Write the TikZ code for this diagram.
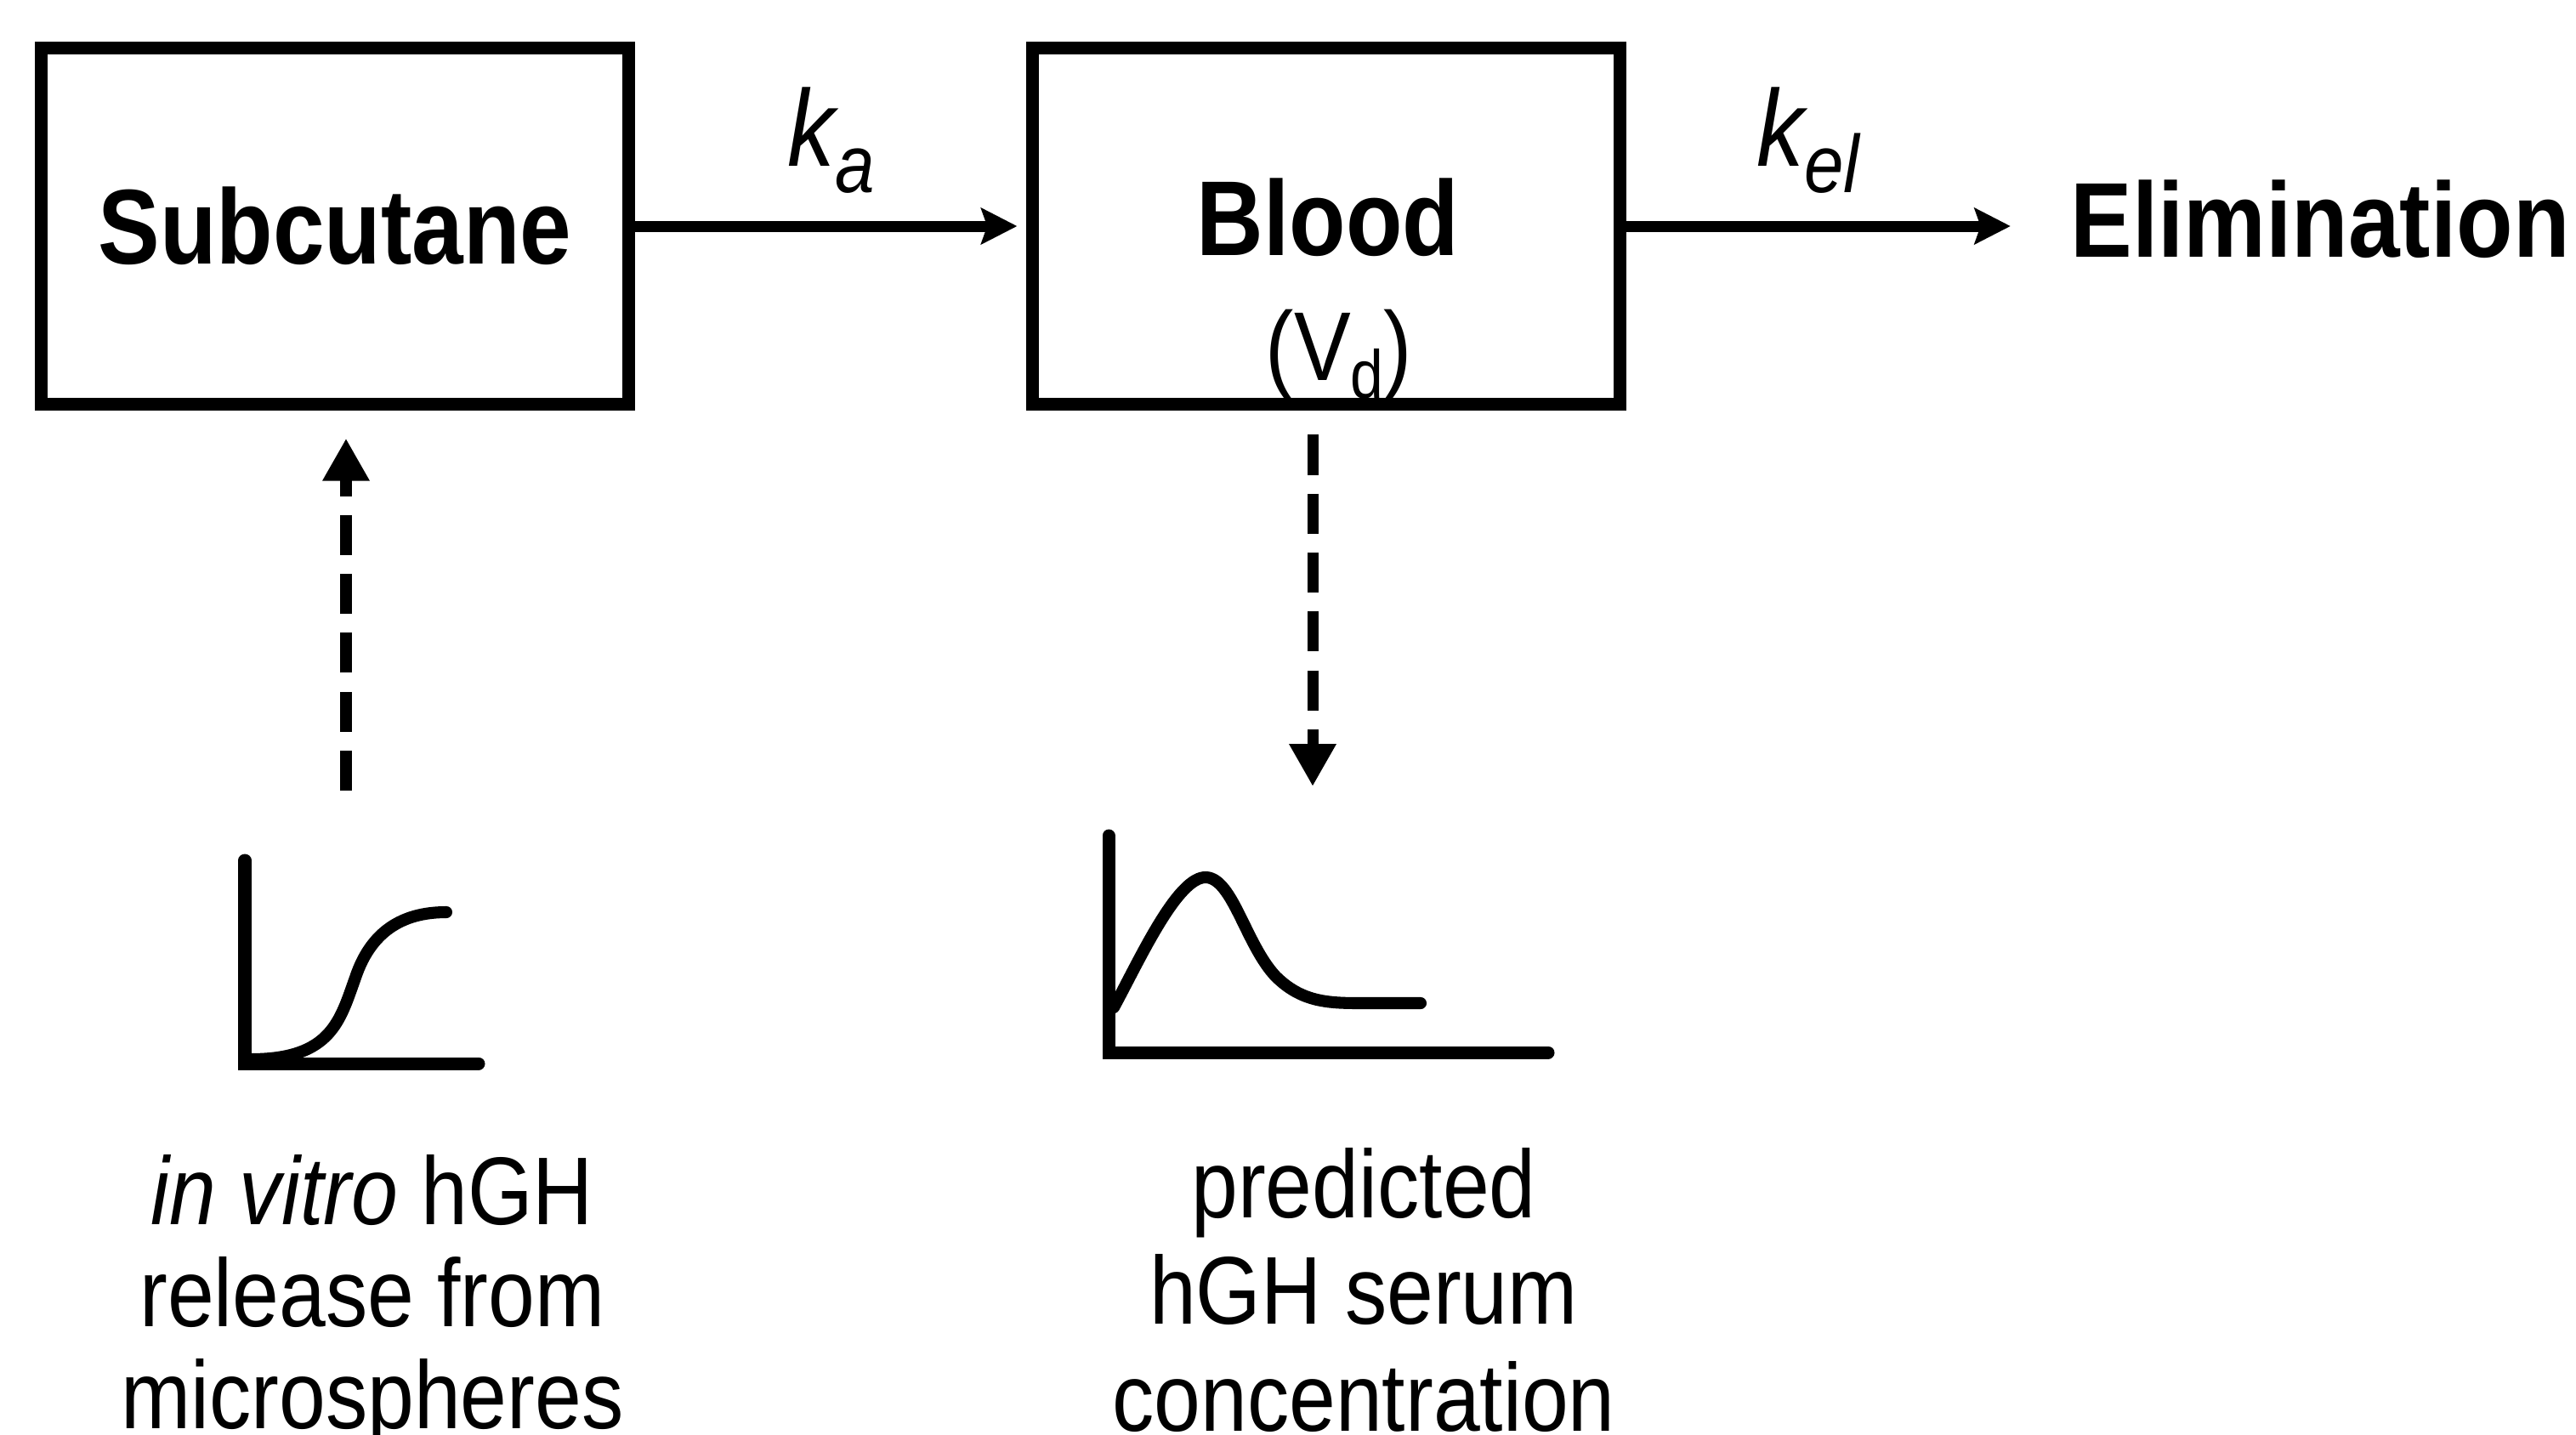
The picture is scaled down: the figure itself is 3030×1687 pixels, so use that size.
\documentclass[tikz,border=0pt]{standalone}
\usepackage{fontspec}
\setmainfont{Liberation Sans}[FakeStretch=0.87]
\usetikzlibrary{arrows.meta}
\newcommand{\mysub}[3]{\raisebox{-#2}{\fontsize{#1}{#1}\selectfont #3}}
\begin{document}
\begin{tikzpicture}[x=0.01cm,y=-0.01cm,
  box/.style={draw, line width=4.27pt, minimum width=6.9cm, minimum height=4.18cm, inner sep=0pt,
    font=\fontsize{35.6pt}{40pt}\selectfont\bfseries},
  lbl/.style={font=\fontsize{35.6pt}{40pt}\selectfont\bfseries, anchor=base, inner sep=0pt},
  rate/.style={font=\fontsize{36.4pt}{40pt}\selectfont\itshape, anchor=base, inner sep=0pt},
  vol/.style={font=\fontsize{32.7pt}{36pt}\selectfont, anchor=base, inner sep=0pt},
  capl/.style={font=\fontsize{32.2pt}{34.1pt}\selectfont, align=center, anchor=base, inner sep=0pt},
  capr/.style={font=\fontsize{32.2pt}{35.6pt}\selectfont, align=center, anchor=base, inner sep=0pt},
  arr/.style={line width=3.7pt, -{Stealth[length=12pt,width=12pt,inset=2pt]}},
  dasharr/.style={line width=3.7pt, dash pattern=on 13.4pt off 6.3pt, -{Triangle[length=14.2pt,width=14.8pt]}},
  axis/.style={line width=4.27pt, line cap=round, line join=miter},
  curve/.style={line width=4pt, line cap=round, line join=round}
]
\useasboundingbox (0,0) rectangle (3030,1687);
% boxes
\node[box] (sub) at (394,266) {Subcutane};
\node[box] (blood) at (1560,266) {};
\node[lbl] (bloodt) at (1562,300) {Blood};
\node[vol] (vd) at (1575,447) {(V\mysub{22.8pt}{6pt}{d})};
\node[lbl] (elim) at (2729,302) {Elimination};
% rate constants
\node[rate] (ka) at (978,195) {k\mysub{27.3pt}{9pt}{a}};
\node[rate] (kel) at (2127,195) {k\mysub{27.3pt}{9pt}{el}};
% solid arrows
\draw[arr, shorten >=3.1pt] (sub.east) -- (blood.west);
\draw[arr, shorten >=19.9pt] (blood.east) -- (blood.east -| elim.west);
% dashed arrows
\coordinate (g1) at (407,930);
\coordinate (g2) at (1544,925);
\draw[dasharr, shorten >=9.4pt] (g1) -- (g1 |- sub.south);
\draw[dasharr, shorten <=8.2pt] (g2 |- blood.south) -- (g2);
% left graph
\draw[axis] (288,1012) -- (288,1251) -- (563,1251);
\draw[curve] (295,1246) .. controls (390,1246) and (400,1200) .. (418,1150)
  .. controls (438,1090) and (480,1073) .. (525,1073);
% right graph
\draw[axis] (1304,983) -- (1304,1238) -- (1821,1238);
\draw[curve] (1310,1185) .. controls (1340,1130) and (1385,1030) .. (1419,1032)
  .. controls (1450,1034) and (1465,1110) .. (1500,1148)
  .. controls (1530,1178) and (1560,1180) .. (1600,1180) -- (1671,1180);
% captions (base anchor = baseline of last line)
\node[capl] (capleft) at (438,1680) {\textit{in vitro} hGH\\release from\\microspheres};
\node[capr] (capright) at (1604,1683) {predicted\\hGH serum\\concentration};
\end{tikzpicture}
\end{document}
